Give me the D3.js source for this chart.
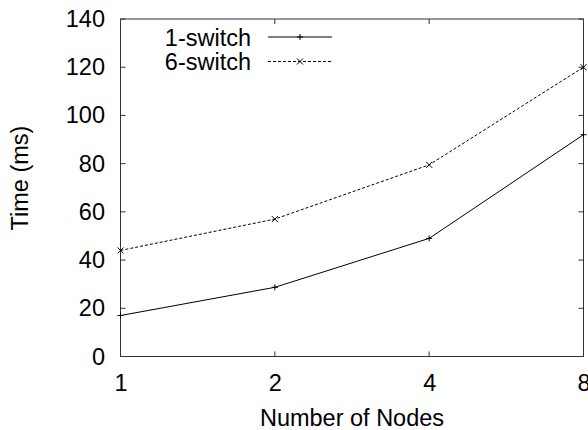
<!DOCTYPE html>
<html>
<head>
<meta charset="utf-8">
<script src="https://cdn.jsdelivr.net/npm/d3@7"></script>
<style>
  body { margin: 0; background: #fff; }
  svg text { font-family: "Liberation Sans", Arial, Helvetica, sans-serif; fill: #000; }
</style>
</head>
<body>
<svg id="chart" width="588" height="430"></svg>
<script>
// Node counts on the x axis (log2 spaced) and measured times in ms
const nodes = [1, 2, 4, 8];
const oneSwitch = [17, 28.7, 49, 92];
const sixSwitch = [44, 57, 79.5, 120];
const yTicks = [0, 20, 40, 60, 80, 100, 120, 140];
const seriesNames = ["1-switch", "6-switch"];

const FONT = "'Liberation Sans', Arial, Helvetica, sans-serif";
const FS = 23.5;

const svg = d3.select("#chart");
const plotLeft = 120.5, plotRight = 583.5, plotTop = 19, plotBottom = 356.5;
const x = d3.scaleLog().base(2).domain([1, 8]).range([plotLeft, plotRight]);
const y = d3.scaleLinear().domain([0, 140]).range([plotBottom, plotTop]);
const tickLen = 5;
const frameColor = "#333";

// Frame
svg.append("rect")
  .attr("x", plotLeft).attr("y", plotTop)
  .attr("width", plotRight - plotLeft).attr("height", plotBottom - plotTop)
  .attr("fill", "none").attr("stroke", frameColor).attr("stroke-width", 1);

// Axes (labels only; ticks drawn inward and mirrored below)
const axB = d3.axisBottom(x).tickValues(nodes).tickFormat(d3.format("d")).tickSize(0);
const gB = svg.append("g").attr("transform", `translate(0,${plotBottom})`).call(axB)
  .attr("font-family", FONT).attr("font-size", FS);
gB.select(".domain").remove();
gB.selectAll("text").attr("y", 391 - plotBottom).attr("dy", 0).attr("fill", "#000");

const axL = d3.axisLeft(y).tickValues(yTicks).tickSize(0).tickPadding(15.5);
const gL = svg.append("g").attr("transform", `translate(${plotLeft},0)`).call(axL)
  .attr("font-family", FONT).attr("font-size", FS);
gL.select(".domain").remove();
gL.selectAll("text").attr("fill", "#000");

const tickG = svg.append("g").attr("stroke", frameColor).attr("stroke-width", 1);
nodes.forEach(d => {
  tickG.append("line").attr("x1", x(d)).attr("x2", x(d)).attr("y1", plotBottom).attr("y2", plotBottom - tickLen);
  tickG.append("line").attr("x1", x(d)).attr("x2", x(d)).attr("y1", plotTop).attr("y2", plotTop + tickLen);
});
yTicks.forEach(d => {
  tickG.append("line").attr("x1", plotLeft).attr("x2", plotLeft + tickLen).attr("y1", y(d)).attr("y2", y(d));
  tickG.append("line").attr("x1", plotRight).attr("x2", plotRight - tickLen).attr("y1", y(d)).attr("y2", y(d));
});

// Axis titles
svg.append("text").attr("x", (plotLeft + plotRight) / 2).attr("y", 426)
  .attr("font-family", FONT).attr("text-anchor", "middle").attr("font-size", FS).text("Number of Nodes");
svg.append("text").attr("transform", "translate(28,178) rotate(-90)")
  .attr("font-family", FONT).attr("text-anchor", "middle").attr("font-size", FS).text("Time (ms)");

// Series
const line = d3.line().x(d => x(d[0])).y(d => y(d[1]));
const series = [
  { name: seriesNames[0], values: oneSwitch, dash: null, marker: "plus" },
  { name: seriesNames[1], values: sixSwitch, dash: "3,2", marker: "cross" }
];

function drawMarker(g, cx, cy, type) {
  const s = 3;
  if (type === "plus") {
    g.append("line").attr("x1", cx - s).attr("x2", cx + s).attr("y1", cy).attr("y2", cy);
    g.append("line").attr("x1", cx).attr("x2", cx).attr("y1", cy - s).attr("y2", cy + s);
  } else {
    g.append("line").attr("x1", cx - s).attr("x2", cx + s).attr("y1", cy - s).attr("y2", cy + s);
    g.append("line").attr("x1", cx - s).attr("x2", cx + s).attr("y1", cy + s).attr("y2", cy - s);
  }
}

series.forEach(s => {
  const pts = nodes.map((n, i) => [n, s.values[i]]);
  svg.append("path").datum(pts).attr("d", line)
    .attr("fill", "none").attr("stroke", "#000").attr("stroke-width", 1)
    .attr("stroke-dasharray", s.dash);
  const mg = svg.append("g").attr("stroke", "#000").attr("stroke-width", 1);
  pts.forEach(p => drawMarker(mg, x(p[0]), y(p[1]), s.marker));
});

// Legend
series.forEach((s, i) => {
  const ly = 37 + i * 24.5;
  svg.append("text").attr("x", 251).attr("y", ly + 8.5)
    .attr("font-family", FONT).attr("text-anchor", "end").attr("font-size", FS).text(s.name);
  svg.append("line").attr("x1", 268).attr("x2", 332).attr("y1", ly).attr("y2", ly)
    .attr("stroke", "#000").attr("stroke-width", 1).attr("stroke-dasharray", s.dash);
  const mg = svg.append("g").attr("stroke", "#000").attr("stroke-width", 1);
  drawMarker(mg, 300, ly, s.marker);
});
</script>
</body>
</html>
